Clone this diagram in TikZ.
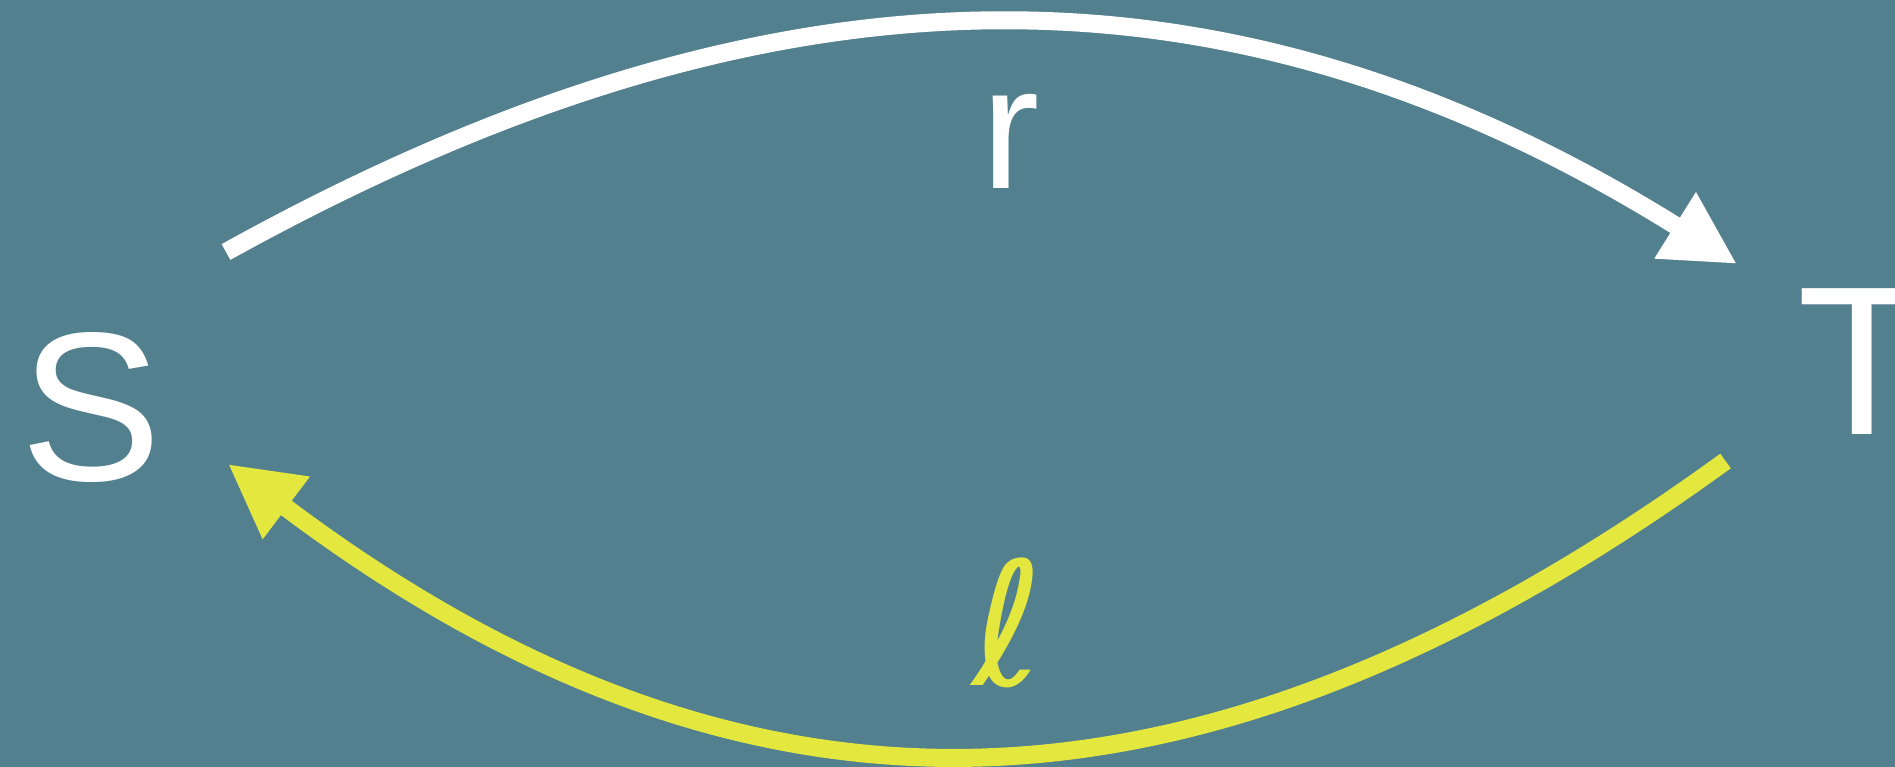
\documentclass[tikz,border=0pt]{standalone}
\usepackage{fontspec}
\setmainfont{Liberation Sans}
\newfontfamily\ellfont{DejaVu Sans}
\usetikzlibrary{arrows.meta}
\definecolor{bg}{HTML}{53808E}
\definecolor{ylw}{HTML}{E4E83E}
\begin{document}
\begin{tikzpicture}[x=1pt,y=-1pt,
  lbl/.style={inner sep=0pt, outer sep=0pt, anchor=base, text=white},
  big/.style={font=\fontsize{212}{212}\selectfont},
  small/.style={font=\fontsize{175}{175}\selectfont},
  ellsize/.style={font=\ellfont\fontsize{172}{172}\selectfont},
  conn/.style={line width=18pt, -{Triangle[length=73pt,width=73pt]}}]
\useasboundingbox (0,0) rectangle (1895,767);
\fill[bg] (0,0) rectangle (1895,767);
\node[lbl,big] (S) at (91.5,480) {S};
\node[lbl,big] (T) at (1862,434) {T};
\node[lbl,small] (r) at (1010.5,189) {r};
\node[lbl,ellsize,text=ylw] (l) at (1008,685) {ℓ};
\coordinate (w0) at (226,252);
\coordinate (w1) at (761.5,-44.8);
\coordinate (w2) at (1218,-60.4);
\coordinate (w3) at (1737,264);
\draw[conn,white] (w0) .. controls (w1) and (w2) .. (w3);
\coordinate (y0) at (1725.5,461);
\coordinate (y1) at (1199.5,843);
\coordinate (y2) at (747,855);
\coordinate (y3) at (228,464);
\draw[conn,ylw] (y0) .. controls (y1) and (y2) .. (y3);
\end{tikzpicture}
\end{document}
